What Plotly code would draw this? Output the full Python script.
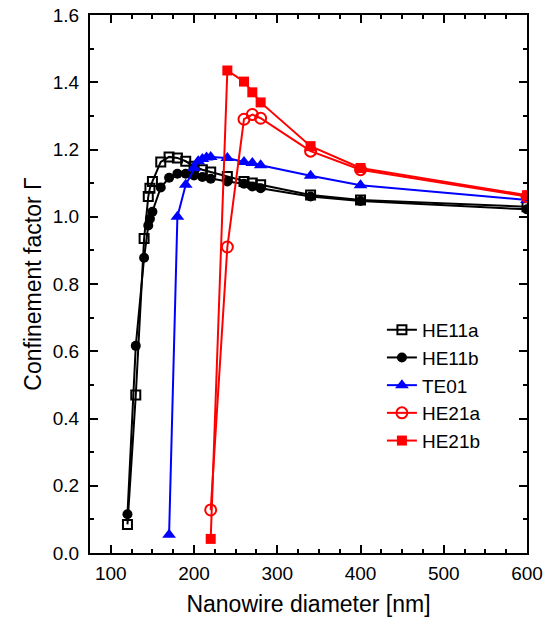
import plotly.graph_objects as go

# Data
he11_x = [120, 130, 140, 145, 147, 150, 160, 170, 180, 190, 200, 210, 220, 240, 260, 270, 280, 340, 400, 600]
he11a_y = [0.085, 0.47, 0.935, 1.06, 1.085, 1.105, 1.163, 1.178, 1.175, 1.165, 1.15, 1.14, 1.133, 1.12, 1.105, 1.10, 1.095, 1.065, 1.05, 1.03]
he11b_y = [0.115, 0.616, 0.878, 0.974, 0.994, 1.015, 1.087, 1.116, 1.128, 1.128, 1.123, 1.118, 1.113, 1.105, 1.098, 1.09, 1.085, 1.06, 1.047, 1.022]
te01_x = [170, 180, 190, 200, 205, 210, 215, 220, 240, 260, 270, 280, 340, 400, 600]
te01_y = [0.054, 1.0, 1.095, 1.145, 1.165, 1.172, 1.176, 1.178, 1.175, 1.163, 1.16, 1.153, 1.122, 1.094, 1.05]
he21_x = [220, 240, 260, 270, 280, 340, 400, 600]
he21a_y = [0.128, 0.91, 1.29, 1.304, 1.293, 1.195, 1.14, 1.06]
he21b_y = [0.042, 1.435, 1.402, 1.37, 1.34, 1.21, 1.145, 1.064]

x_ticks = [100, 200, 300, 400, 500, 600]
y_ticks = [0.0, 0.2, 0.4, 0.6, 0.8, 1.0, 1.2, 1.4, 1.6]

FONT = "Liberation Sans, Arial, sans-serif"

fig = go.Figure()
fig.add_trace(go.Scatter(x=he11_x, y=he11a_y, name="HE11a", mode="lines+markers",
                         line=dict(color="black", width=2),
                         marker=dict(symbol="square-open", size=9, color="black", line=dict(width=2))))
fig.add_trace(go.Scatter(x=he11_x, y=he11b_y, name="HE11b", mode="lines+markers",
                         line=dict(color="black", width=2),
                         marker=dict(symbol="circle", size=10, color="black")))
fig.add_trace(go.Scatter(x=te01_x, y=te01_y, name="TE01", mode="lines+markers",
                         line=dict(color="#0000FF", width=2),
                         marker=dict(symbol="triangle-up", size=12, color="#0000FF")))
fig.add_trace(go.Scatter(x=he21_x, y=he21a_y, name="HE21a", mode="lines+markers",
                         line=dict(color="#FF0000", width=2),
                         marker=dict(symbol="circle-open", size=11, color="#FF0000", line=dict(width=2))))
fig.add_trace(go.Scatter(x=he21_x, y=he21b_y, name="HE21b", mode="lines+markers",
                         line=dict(color="#FF0000", width=2),
                         marker=dict(symbol="square", size=10, color="#FF0000")))

axis_common = dict(showline=True, linecolor="black", linewidth=2, mirror="allticks",
                   ticks="inside", ticklen=8, tickwidth=2, tickcolor="black",
                   showgrid=False, zeroline=False, automargin=False,
                   tickfont=dict(family=FONT, size=19, color="black"))

fig.update_xaxes(range=[75, 600], tickvals=x_ticks, ticktext=[str(v) for v in x_ticks],
                 minor=dict(ticks="inside", dtick=25, tick0=0, ticklen=4, tickwidth=2, tickcolor="black"),
                 ticklabelstandoff=2,
                 title=dict(text="Nanowire diameter [nm]", font=dict(family=FONT, size=23, color="black"), standoff=13),
                 **axis_common)
fig.update_yaxes(range=[0, 1.6], tickvals=y_ticks, ticktext=[f"{v:.1f}" for v in y_ticks],
                 minor=dict(ticks="inside", dtick=0.1, tick0=0, ticklen=4, tickwidth=2, tickcolor="black"),
                 ticklabelstandoff=5,
                 title=dict(text="Confinement factor Γ", font=dict(family=FONT, size=23, color="black"), standoff=5),
                 **axis_common)

fig.update_layout(width=545, height=619, plot_bgcolor="white", paper_bgcolor="white",
                  margin=dict(l=90, r=18, t=15, b=66),
                  legend=dict(x=0.668, y=0.45, xanchor="left", yanchor="top",
                              bgcolor="rgba(0,0,0,0)", borderwidth=0,
                              font=dict(family=FONT, size=19, color="black"),
                              tracegroupgap=0, itemsizing="trace"),
                  font=dict(family=FONT, color="black"))

fig.write_html("out.html", config={"displayModeBar": False},
               post_script="document.body.style.margin='0';document.body.style.padding='0';")
